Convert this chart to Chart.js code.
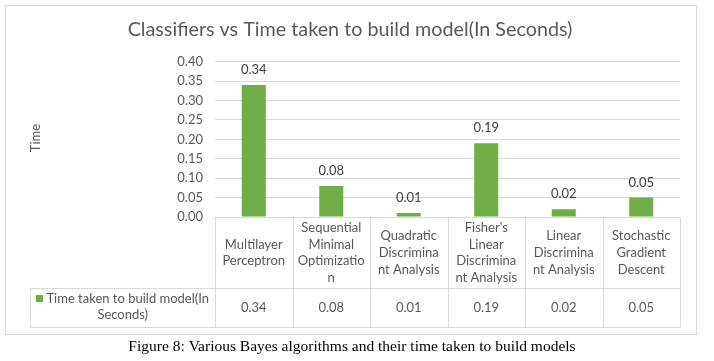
<!DOCTYPE html>
<html>
<head>
<meta charset="utf-8">
<script src="https://cdn.jsdelivr.net/npm/chart.js@4/dist/chart.umd.min.js"></script>
<style>
html,body{margin:0;padding:0;background:#fff;}
canvas{display:block;}
</style>
</head>
<body>
<canvas id="c" width="714" height="361"></canvas>
<script>
// ---- data ----
const categories = ["Multilayer Perceptron", "Sequential Minimal Optimization", "Quadratic Discriminant Analysis", "Fisher's Linear Discriminant Analysis", "Linear Discriminant Analysis", "Stochastic Gradient Descent"];
const categoryLines = [
  ["Multilayer", "Perceptron"],
  ["Sequential", "Minimal", "Optimizatio", "n"],
  ["Quadratic", "Discrimina", "nt Analysis"],
  ["Fisher's", "Linear", "Discrimina", "nt Analysis"],
  ["Linear", "Discrimina", "nt Analysis"],
  ["Stochastic", "Gradient", "Descent"]
];
const seriesName = "Time taken to build model(In Seconds)";
const seriesNameLines = ["Time taken to build model(In", "Seconds)"];
const timeTaken = [0.34, 0.08, 0.01, 0.19, 0.02, 0.05];
const yTickValues = [0.00, 0.05, 0.10, 0.15, 0.20, 0.25, 0.30, 0.35, 0.40];
const chartTitle = "Classifiers vs Time taken to build model(In Seconds)";
const yAxisTitle = "Time";
const caption = "Figure 8: Various Bayes algorithms and their time taken to build models";

const GREEN = "#70AD47";
const TEXT = "#595959";
const GRID = "#d9d9d9";
const FONT = "Lato, 'Liberation Sans', sans-serif";

const tablePlugin = {
  id: "tablePlugin",
  afterDatasetsDraw(chart) {
    const ctx = chart.ctx;
    const meta = chart.getDatasetMeta(0);
    ctx.save();
    ctx.fillStyle = "#404040";
    ctx.font = "13px " + FONT;
    ctx.textAlign = "center";
    ctx.textBaseline = "middle";
    meta.data.forEach((bar, i) => {
      ctx.fillText(timeTaken[i].toFixed(2), bar.x, bar.y - 15);
    });
    ctx.restore();
  },
  afterDraw(chart) {
    const ctx = chart.ctx;
    const ca = chart.chartArea;
    const xs = chart.scales.x;
    const n = categories.length;
    const colW = ca.width / n;
    const rowSplit = 288.5, rowBottom = 327.5, legendLeft = 30.5;
    ctx.save();
    // outer border
    ctx.strokeStyle = GRID;
    ctx.lineWidth = 1;
    ctx.strokeRect(5.5, 5.5, 691, 329);
    // table grid
    ctx.beginPath();
    const top = Math.round(ca.bottom) + 0.5;
    ctx.moveTo(Math.round(ca.left) + 0.5, top); ctx.lineTo(Math.round(ca.right) + 0.5, top);
    ctx.moveTo(legendLeft, rowSplit); ctx.lineTo(Math.round(ca.right) + 0.5, rowSplit);
    ctx.moveTo(legendLeft, rowBottom); ctx.lineTo(Math.round(ca.right) + 0.5, rowBottom);
    for (let i = 0; i <= n; i++) {
      const x = Math.round(ca.left + i * colW) + 0.5;
      ctx.moveTo(x, top); ctx.lineTo(x, rowBottom);
    }
    ctx.moveTo(legendLeft, rowSplit); ctx.lineTo(legendLeft, rowBottom);
    ctx.stroke();

    // category labels
    ctx.fillStyle = TEXT;
    ctx.font = "13px " + FONT;
    ctx.textAlign = "center";
    ctx.textBaseline = "middle";
    const lh = 16.7;
    const midCat = (ca.bottom + rowSplit) / 2;
    categoryLines.forEach((lines, i) => {
      const cx = xs.getPixelForValue(i);
      const start = midCat - (lines.length - 1) * lh / 2;
      lines.forEach((t, j) => ctx.fillText(t, cx, start + j * lh));
      ctx.fillText(timeTaken[i].toFixed(2), cx, (rowSplit + rowBottom) / 2);
    });

    // legend cell
    const lcx = (legendLeft + ca.left) / 2;
    const l1y = 299, l2y = 315;
    const w1 = ctx.measureText(seriesNameLines[0]).width;
    const sq = 7, gap = 3;
    const total = sq + gap + w1;
    const sx = lcx - total / 2;
    ctx.fillStyle = GREEN;
    ctx.fillRect(Math.round(sx), l1y - 4, sq, sq);
    ctx.fillStyle = TEXT;
    ctx.textAlign = "left";
    ctx.fillText(seriesNameLines[0], sx + sq + gap, l1y);
    ctx.textAlign = "center";
    ctx.fillText(seriesNameLines[1], lcx, l2y);

    // y axis title
    ctx.save();
    ctx.translate(36, 138);
    ctx.rotate(-Math.PI / 2);
    ctx.font = "13px " + FONT;
    ctx.fillText(yAxisTitle, 0, 0);
    ctx.restore();

    // caption
    ctx.fillStyle = "#000";
    ctx.font = "15.5px 'Liberation Serif', 'Times New Roman', serif";
    ctx.textAlign = "center";
    ctx.fillText(caption, 352, 347);
    ctx.restore();
  }
};

new Chart(document.getElementById("c"), {
  type: "bar",
  data: {
    labels: categories,
    datasets: [{
      label: seriesName,
      data: timeTaken,
      backgroundColor: GREEN,
      barPercentage: 0.31,
      categoryPercentage: 1.0,
      yAxisID: "y"
    }]
  },
  options: {
    responsive: false,
    animation: false,
    devicePixelRatio: 1,
    layout: { padding: { left: 0, right: 14, top: 0, bottom: 144 } },
    plugins: {
      legend: { display: false },
      tooltip: { enabled: false },
      title: {
        display: true,
        text: chartTitle,
        color: TEXT,
        font: { family: FONT, size: 19.75, weight: "normal" },
        padding: { top: 18, bottom: 20 }
      }
    },
    scales: {
      x: { display: false },
      y: {
        position: "left",
        min: 0, max: 0.4,
        afterFit(scale) { scale.width = 215; },
        afterBuildTicks(scale) { scale.ticks = yTickValues.map(v => ({ value: v })); },
        ticks: {
          color: TEXT,
          padding: 12,
          font: { family: FONT, size: 13 },
          callback: v => Number(v).toFixed(2)
        },
        grid: { color: GRID, drawTicks: false },
        border: { display: false }
      },
      yRight: {
        position: "right",
        min: 0, max: 0.4,
        afterFit(scale) { scale.width = 20; },
        ticks: { display: false },
        grid: { display: false, drawOnChartArea: false },
        border: { display: false }
      }
    }
  },
  plugins: [tablePlugin]
});
</script>
</body>
</html>
